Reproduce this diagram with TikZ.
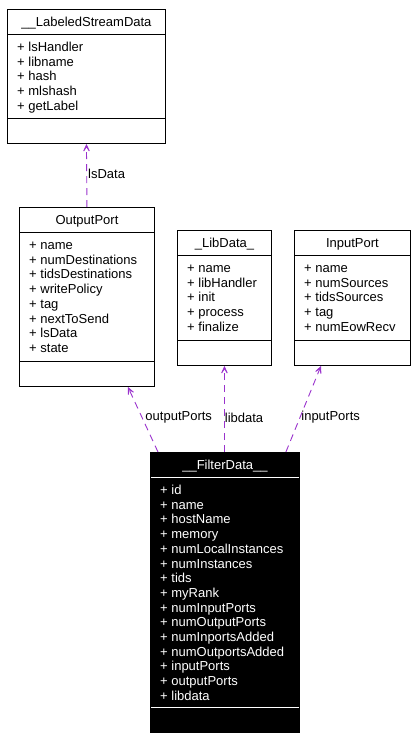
\documentclass[tikz,border=0pt]{standalone}
\usepackage{fontspec}
\setmainfont{Liberation Sans}
\usetikzlibrary{arrows.meta}
\definecolor{usecolor}{HTML}{9A32CD}
\tikzset{
  classbox/.style={draw=black,line width=0.9pt,fill=white,inner sep=0,anchor=north west},
  classname/.style={anchor=base,inner sep=0,font=\fontsize{13}{15}\selectfont},
  member/.style={anchor=base west,inner sep=0,font=\fontsize{13}{15}\selectfont},
  usage/.style={usecolor,line width=0.9pt,dash pattern=on 7pt off 5pt,
                -{Stealth[length=13pt,width=12pt,inset=9.5pt]}},
  edgelabel/.style={anchor=west,inner sep=0,text=black,font=\fontsize{13}{15}\selectfont}
}
\begin{document}
\begin{tikzpicture}[x=1pt,y=-1pt]
  \useasboundingbox (0,0) rectangle (420,740);

  \node[classbox,minimum width=158pt,minimum height=134pt] (lsd) at (7,9) {};
  \node[classbox,minimum width=135pt,minimum height=179pt] (outputport) at (19,207) {};
  \node[classbox,minimum width=94pt,minimum height=135pt] (libdata) at (177,230) {};
  \node[classbox,minimum width=116pt,minimum height=135pt] (inputport) at (294,230) {};
  \node[classbox,fill=black,minimum width=149pt,minimum height=280pt] (filterdata) at (150,452) {};

  \foreach \c in {lsd,outputport,libdata,inputport} {
    \draw[line width=0.9pt] ([yshift=-25.5pt]\c.north west) -- ([yshift=-25.5pt]\c.north east);
    \draw[line width=0.9pt] ([yshift=25pt]\c.south west) -- ([yshift=25pt]\c.south east);
  }
  \draw[white,line width=0.9pt] ([xshift=1pt,yshift=-25.5pt]filterdata.north west) -- ([xshift=-1pt,yshift=-25.5pt]filterdata.north east);
  \draw[white,line width=0.9pt] ([xshift=1pt,yshift=25pt]filterdata.south west) -- ([xshift=-1pt,yshift=25pt]filterdata.south east);

  \node[classname] (lsd-title) at ([yshift=-17.5pt]lsd.north) {\_\_LabeledStreamData};
  \node[classname] (outputport-title) at ([yshift=-17.5pt]outputport.north) {OutputPort};
  \node[classname] (libdata-title) at ([yshift=-17.5pt]libdata.north) {\_LibData\_};
  \node[classname] (inputport-title) at ([yshift=-17.5pt]inputport.north) {InputPort};
  \node[classname,text=white] (filterdata-title) at ([yshift=-17.5pt]filterdata.north) {\_\_FilterData\_\_};

  \foreach \m [count=\i from 0] in {lsHandler,libname,hash,mlshash,getLabel}
    \node[member] (lsd-m\i) at ([xshift=10pt,yshift={-42.5pt-\i*14.7pt}]lsd.north west) {+ \m};
  \foreach \m [count=\i from 0] in {name,numDestinations,tidsDestinations,writePolicy,tag,nextToSend,lsData,state}
    \node[member] (outputport-m\i) at ([xshift=10pt,yshift={-42.5pt-\i*14.7pt}]outputport.north west) {+ \m};
  \foreach \m [count=\i from 0] in {name,libHandler,init,process,finalize}
    \node[member] (libdata-m\i) at ([xshift=10pt,yshift={-42.5pt-\i*14.7pt}]libdata.north west) {+ \m};
  \foreach \m [count=\i from 0] in {name,numSources,tidsSources,tag,numEowRecv}
    \node[member] (inputport-m\i) at ([xshift=10pt,yshift={-42.5pt-\i*14.7pt}]inputport.north west) {+ \m};
  \foreach \m [count=\i from 0] in {id,name,hostName,memory,numLocalInstances,numInstances,tids,myRank,
      numInputPorts,numOutputPorts,numInportsAdded,numOutportsAdded,inputPorts,outputPorts,libdata}
    \node[member,text=white] (filterdata-m\i) at ([xshift=10pt,yshift={-42.5pt-\i*14.7pt}]filterdata.north west) {+ \m};

  \draw[usage] (outputport.north) -- (lsd.south)
    node[edgelabel,pos=0.52,xshift=1pt] (lsdata-label) {lsData};
  \draw[usage] ([xshift=8pt]filterdata.north west) -- ([xshift=-27pt]outputport.south east)
    node[edgelabel,pos=0.53,xshift=3pt] (outputports-label) {outputPorts};
  \draw[usage] (filterdata.north -| libdata.south) -- (libdata.south)
    node[edgelabel,pos=0.4] (libdata-label) {libdata};
  \draw[usage] ([xshift=-14pt]filterdata.north east) -- ([xshift=27pt]inputport.south west)
    node[edgelabel,pos=0.4,xshift=1pt] (inputports-label) {inputPorts};
\end{tikzpicture}
\end{document}
